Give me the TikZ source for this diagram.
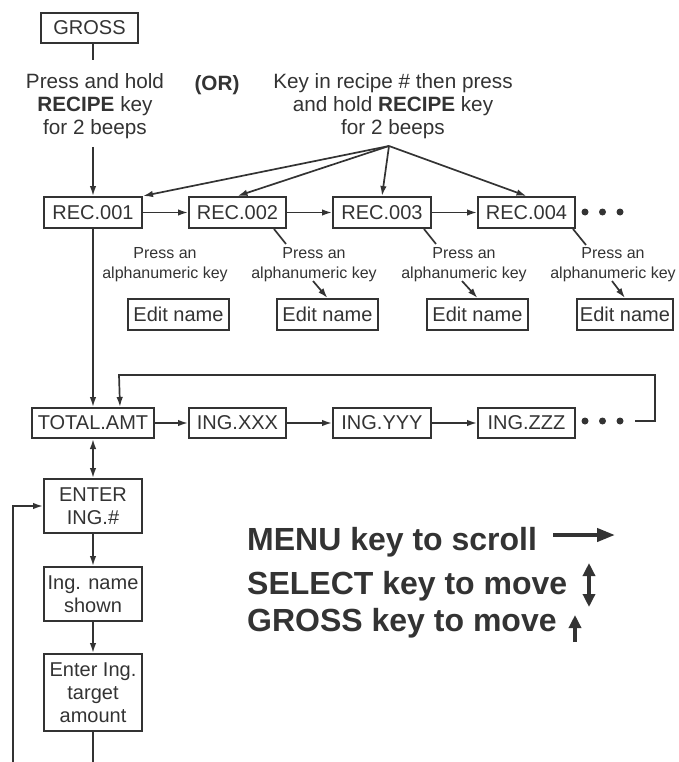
\documentclass[tikz,border=0pt]{standalone}
\usepackage{fontspec}
\setmainfont{Liberation Sans}
\usetikzlibrary{arrows.meta,calc}
\definecolor{ink}{HTML}{333333}
\begin{document}
\begin{tikzpicture}[x=1pt,y=-1pt,
  box/.style={draw=ink,line width=2pt,text=ink,inner sep=0pt,minimum height=31pt,font=\fontsize{20}{23}\selectfont,align=center},
  conn/.style={draw=ink,line width=1.7pt},
  arr/.style={conn,-{Latex[length=10pt,width=6.5pt]}},
  darr/.style={conn,{Latex[length=10pt,width=6.5pt]}-{Latex[length=10pt,width=6.5pt]}},
  lbl/.style={text=ink,align=center,font=\fontsize{20.7}{23}\selectfont,inner sep=0pt},
  small/.style={text=ink,align=center,font=\fontsize{16}{20}\selectfont,inner sep=0pt},
  legend/.style={text=ink,font=\fontsize{32}{38}\selectfont\bfseries,inner sep=0pt,anchor=base west},
  dot/.style={circle,fill=ink,inner sep=0pt,minimum size=7pt},
  bigarr/.style={draw=ink,line width=4pt}
]
\useasboundingbox (0,0) rectangle (678,762);

% top
\node[box,minimum width=97pt,minimum height=30pt] (gross) at (89.5,28) {GROSS};
\node[lbl] (lt) at (95,106.5) {Press and hold\\\textbf{RECIPE} key\\for 2 beeps};
\node[lbl,font=\fontsize{20.7}{23}\selectfont\bfseries] (or) at (217,85) {(OR)};
\node[lbl] (rt) at (393,106.5) {Key in recipe \# then press\\and hold \textbf{RECIPE} key\\for 2 beeps};
\coordinate (ltop) at (93,60);
\coordinate (lbot) at (93,147);
\coordinate (fan) at (389,146);

% REC row
\node[box,minimum width=98pt] (rec1) at (93,212.5) {REC.001};
\node[box,minimum width=97pt] (rec2) at (237.5,212.5) {REC.002};
\node[box,minimum width=98pt] (rec3) at (382,212.5) {REC.003};
\node[box,minimum width=97pt] (rec4) at (526.5,212.5) {REC.004};
\node[dot] (d1) at (585,212) {};
\node[dot] (d2) at (602.5,212) {};
\node[dot] (d3) at (620,212) {};

% press texts
\node[small] (p1) at (165,265) {Press an\\alphanumeric key};
\node[small] (p2) at (314,265) {Press an\\alphanumeric key};
\node[small] (p3) at (464,265) {Press an\\alphanumeric key};
\node[small] (p4) at (613,265) {Press an\\alphanumeric key};

% edit name boxes
\node[box,minimum width=101pt] (e1) at (178.5,314.5) {Edit name};
\node[box,minimum width=101pt] (e2) at (327.5,314.5) {Edit name};
\node[box,minimum width=101pt] (e3) at (477.5,314.5) {Edit name};
\node[box,minimum width=96pt] (e4) at (625,314.5) {Edit name};

% ING row
\node[box,minimum width=122pt,minimum height=30pt] (tot) at (93,423) {TOTAL.AMT};
\node[box,minimum width=97pt,minimum height=30pt] (ix) at (237.5,423) {ING.XXX};
\node[box,minimum width=98pt,minimum height=30pt] (iy) at (382,423) {ING.YYY};
\node[box,minimum width=97pt,minimum height=30pt] (iz) at (526.5,423) {ING.ZZZ};
\node[dot] (f1) at (585,421) {};
\node[dot] (f2) at (602.5,421) {};
\node[dot] (f3) at (620,421) {};

% vertical chain
\node[box,minimum width=98pt,minimum height=54pt] (enter) at (93,506) {ENTER\\ING.\#};
\node[box,minimum width=98pt,minimum height=54pt] (shown) at (93,594) {Ing. name\\shown};
\node[box,minimum width=98pt,minimum height=77pt] (target) at (93,692.5) {Enter Ing.\\target\\amount};
\coordinate (bot) at (93,762);
\coordinate (lbotl) at (13,762);
\coordinate (lcorner) at (13,506);

% connectors top
\draw[conn] (ltop |- gross.south) -- (ltop);
\draw[arr] (lbot) -- (rec1.north);
\draw[arr] (fan) -- (rec1.north east);
\draw[arr] (fan) -- (rec2.north);
\draw[arr] (fan) -- (rec3.north);
\draw[arr] (fan) -- (rec4.north);
\draw[arr] (rec1) -- (rec2);
\draw[arr] (rec2) -- (rec3);
\draw[arr] (rec3) -- (rec4);

% press connectors
\draw[conn] ($(rec2.south east)+(-13,0)$) -- ($(rec2.south east)+(-1,15)$);
\draw[arr] ($(p2)+(-1,16)$) -- (e2.north);
\draw[conn] ($(rec3.south east)+(-8,0)$) -- ($(rec3.south east)+(4,15)$);
\draw[arr] ($(p3)+(-2,16)$) -- (e3.north);
\draw[conn] ($(rec4.south east)+(-3,0)$) -- ($(rec4.south east)+(10,16)$);
\draw[arr] ($(p4)+(-1,16)$) -- (e4.north);

% down to total
\draw[arr] (rec1.south) -- (tot.north);
\draw[arr] (tot) -- (ix);
\draw[arr] (ix) -- (iy);
\draw[arr] (iy) -- (iz);
\coordinate (loopa) at (635,421);
\coordinate (loopb) at (655,421);
\coordinate (loopc) at (655,375);
\coordinate (loopd) at (119,375);
\draw[arr] (loopa) -- (loopb) -- (loopc) -- (loopd) -- ($(tot.north east)+(-35,0)$);

% chain
\draw[darr] (tot.south) -- (enter.north);
\draw[arr] (enter) -- (shown);
\draw[arr] (shown) -- (target);
\draw[conn] (target.south) -- (bot);
\draw[arr] (lbotl) -- (lcorner) -- (enter.west);

% legend
\node[legend] (l1) at (247,550) {MENU key to scroll};
\node[legend] (l2) at (247,594) {SELECT key to move};
\node[legend] (l3) at (247,631) {GROSS key to move};
\coordinate (m1) at (553,535);
\coordinate (m2) at (615,535);
\draw[bigarr,-{Triangle[length=18pt,width=13pt]}] (m1) -- (m2);
\coordinate (s1) at (589,563);
\coordinate (s2) at (589,607);
\draw[bigarr,{Triangle[length=13pt,width=12pt]}-{Triangle[length=13pt,width=12pt]}] (s1) -- (s2);
\coordinate (g1) at (575,642);
\coordinate (g2) at (575,615);
\draw[bigarr,-{Triangle[length=13pt,width=12pt]}] (g1) -- (g2);
\end{tikzpicture}
\end{document}
